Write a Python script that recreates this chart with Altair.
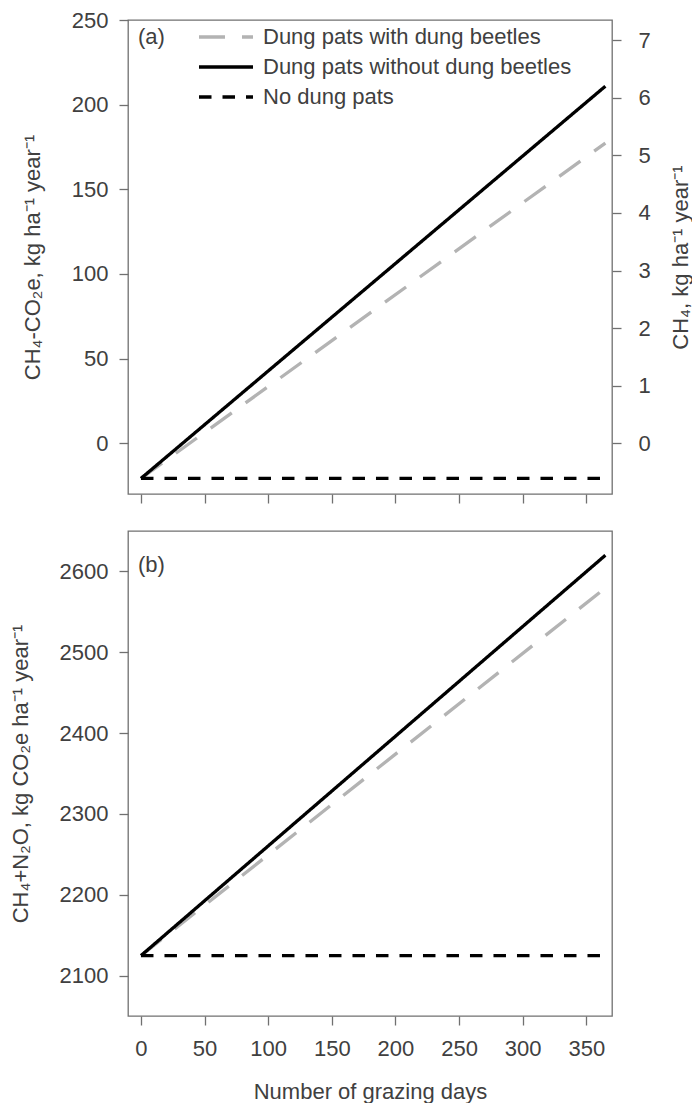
import altair as alt
import pandas as pd

# ---- data ----
series = ["Dung pats with dung beetles", "Dung pats without dung beetles", "No dung pats"]
days = [0, 365]
# panel (a): CH4-CO2e, kg ha-1 year-1
ch4_with = [-20.8, 177.3]
ch4_without = [-20.8, 210.9]
ch4_none = [-20.8, -20.8]
# panel (b): CH4+N2O, kg CO2e ha-1 year-1
tot_with = [2124.7, 2579.5]
tot_without = [2124.7, 2620.0]
tot_none = [2124.7, 2124.7]
gwp_ch4 = 34  # right axis of panel (a): CH4 = CO2e / 34

x_ticks = [0, 50, 100, 150, 200, 250, 300, 350]
ya_ticks = [0, 50, 100, 150, 200, 250]
ya_right_ticks = [0, 1, 2, 3, 4, 5, 6, 7]
yb_ticks = [2100, 2200, 2300, 2400, 2500, 2600]
panel_a = ["(a)"]
panel_b = ["(b)"]

FONT = "Liberation Sans"
TEXT = "#404040"
AXIS = "#707070"
LW = 3.3


def frame(vals_list):
    rows = []
    for s, vals in zip(series, vals_list):
        for d, v in zip(days, vals):
            rows.append({"series": s, "days": d, "value": v})
    return pd.DataFrame(rows)


df_a = frame([ch4_with, ch4_without, ch4_none])
df_b = frame([tot_with, tot_without, tot_none])

color_scale = alt.Scale(domain=series, range=["#b3b3b3", "#000000", "#000000"])
dash_scale = alt.Scale(domain=series, range=[[26, 17], [1, 0], [12.5, 11]])
x_scale = alt.Scale(domain=[-10.2, 370.2], nice=False, zero=False)

legend = alt.Legend(
    title=None, orient="none", legendX=81, legendY=0,
    symbolType="M-1.8,0H1.8", symbolSize=900, symbolStrokeWidth=LW,
    labelFont=FONT, labelFontSize=22, labelColor=TEXT, labelOffset=20,
    rowPadding=2, padding=0, labelLimit=0,
)

# ---- panel (a) ----
lines_a = alt.Chart(df_a).mark_line(strokeWidth=LW, strokeCap="butt").encode(
    x=alt.X("days:Q", scale=x_scale,
            axis=alt.Axis(values=x_ticks, labels=False, title=None)),
    y=alt.Y("value:Q", scale=alt.Scale(domain=[-30, 250], nice=False, zero=False),
            axis=alt.Axis(values=ya_ticks, format="d", title="CH₄-CO₂e, kg ha⁻¹ year⁻¹",
                          titlePadding=27)),
    color=alt.Color("series:N", scale=color_scale, legend=legend),
    strokeDash=alt.StrokeDash("series:N", scale=dash_scale, legend=legend),
    detail="series:N",
)

right_a = alt.Chart(df_a).transform_calculate(
    ch4=f"datum.value / {gwp_ch4}"
).mark_line(opacity=0).encode(
    x=alt.X("days:Q", scale=x_scale),
    y=alt.Y("ch4:Q",
            scale=alt.Scale(domain=[-30 / gwp_ch4, 250 / gwp_ch4], nice=False, zero=False),
            axis=alt.Axis(orient="right", values=ya_right_ticks, format="d",
                          title="CH₄, kg ha⁻¹ year⁻¹", titleAngle=270,
                          titleBaseline="top", titlePadding=20, labelPadding=17)),
    detail="series:N",
)

label_a = alt.Chart(pd.DataFrame({"label": panel_a})).mark_text(
    align="left", baseline="middle", font=FONT, fontSize=22, color=TEXT
).encode(text="label:N", x=alt.value(10), y=alt.value(17))

top = alt.layer(lines_a, right_a, label_a).resolve_scale(y="independent").properties(
    width=484, height=474
)

# ---- panel (b) ----
lines_b = alt.Chart(df_b).mark_line(strokeWidth=LW, strokeCap="butt").encode(
    x=alt.X("days:Q", scale=x_scale,
            axis=alt.Axis(values=x_ticks, format="d", title="Number of grazing days",
                          labelPadding=13, titlePadding=22)),
    y=alt.Y("value:Q", scale=alt.Scale(domain=[2050, 2650], nice=False, zero=False),
            axis=alt.Axis(values=yb_ticks, format="d", title="CH₄+N₂O, kg CO₂e ha⁻¹ year⁻¹",
                          titlePadding=27)),
    color=alt.Color("series:N", scale=color_scale, legend=None),
    strokeDash=alt.StrokeDash("series:N", scale=dash_scale, legend=None),
    detail="series:N",
)

label_b = alt.Chart(pd.DataFrame({"label": panel_b})).mark_text(
    align="left", baseline="middle", font=FONT, fontSize=22, color=TEXT
).encode(text="label:N", x=alt.value(10), y=alt.value(34))

bottom = alt.layer(lines_b, label_b).properties(width=484, height=485)

chart = alt.vconcat(top, bottom, spacing=37, bounds="flush").resolve_scale(
    color="independent", strokeDash="independent"
).properties(
    padding={"left": 0, "top": 0, "right": 0, "bottom": 0}
).configure_view(
    stroke=AXIS, strokeWidth=1.3
).configure_axis(
    domain=False, grid=False, tickColor=AXIS, tickWidth=1.3, tickSize=9,
    labelFont=FONT, labelFontSize=22, labelColor=TEXT, labelPadding=11,
    titleFont=FONT, titleFontSize=22, titleFontWeight="normal", titleColor=TEXT,
)

chart.save("out.html", embed_options={"renderer": "svg", "actions": False})
